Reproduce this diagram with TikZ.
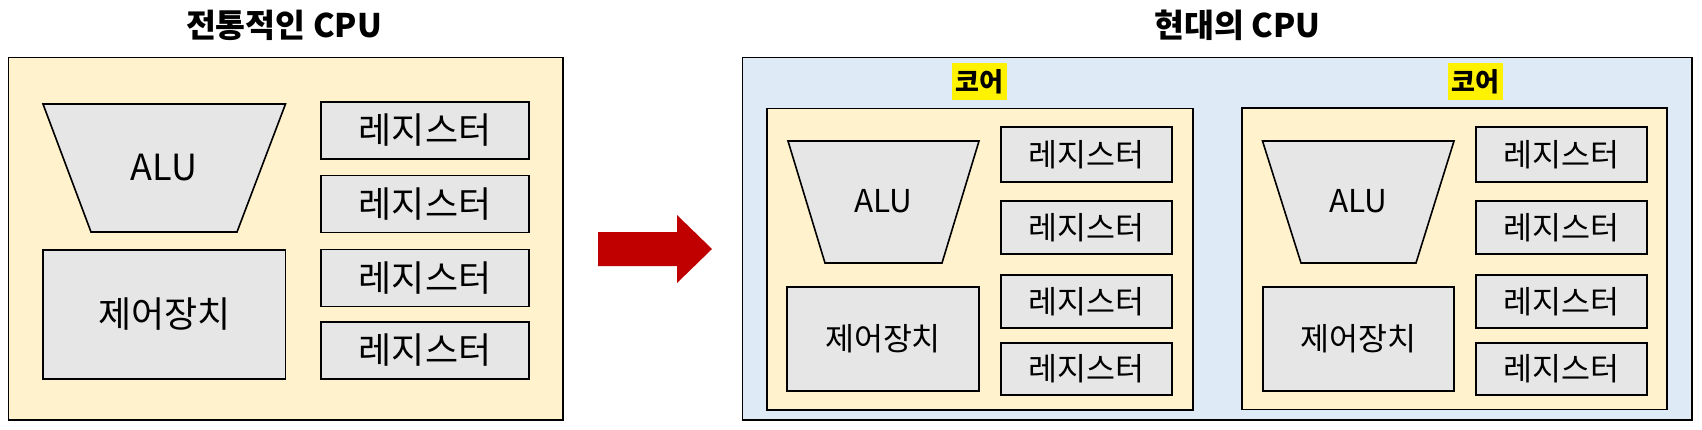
\documentclass[tikz,border=0pt]{standalone}
\usepackage{fontspec}
\setmainfont{Noto Sans CJK KR}
\definecolor{cream}{HTML}{FFF2CC}
\definecolor{paleblue}{HTML}{DEEBF7}
\definecolor{boxgray}{HTML}{E6E6E6}
\definecolor{arrowred}{HTML}{C00000}
\tikzset{
  panel/.style={draw=black, line width=1.8pt, inner sep=0pt},
  part/.style={draw=black, line width=1.6pt, fill=boxgray, inner sep=0pt},
  bigtxt/.style={font=\fontsize{36}{36}\selectfont},
  smalltxt/.style={font=\fontsize{31.5}{31.5}\selectfont},
  title/.style={font=\fontsize{32.5}{32.5}\selectfont\bfseries},
  corelabel/.style={fill=yellow, inner sep=0pt, minimum width=55pt, minimum height=37pt, font=\fontsize{26}{26}\selectfont\bfseries},
}
\begin{document}
\begin{tikzpicture}[x=1pt,y=-1pt]
\useasboundingbox (0,0) rectangle (1702,429);
% ---------- left: traditional CPU ----------
\node[title] (t1) at (284,25) {전통적인 CPU};
\node[panel, fill=cream, minimum width=554.5pt, minimum height=362.5pt] (cpu1) at (285.75,238.75) {};
\filldraw[part, line join=miter] (43,104) -- (285.5,104) -- (237,232) -- (91,232) -- cycle;
\node[bigtxt] (alu0) at (164,168) {ALU};
\node[part, bigtxt, minimum width=242.5pt, minimum height=129pt] (cu0) at (164.25,314.5) {제어장치};
\foreach \y [count=\i] in {130.5,204,278,350.5}
  \node[part, bigtxt, minimum width=208pt, minimum height=57pt] (r0\i) at (425,\y) {레지스터};
% ---------- arrow ----------
\fill[arrowred] (598,232) -- (677,232) -- (677,215) -- (712,249) -- (677,283) -- (677,266) -- (598,266) -- cycle;
% ---------- right: modern CPU ----------
\node[title] (t2) at (1237.5,25) {현대의 CPU};
\node[panel, fill=paleblue, minimum width=949.5pt, minimum height=362.5pt] (cpu2) at (1217.25,238.75) {};
% core 1
\node[corelabel] (l1) at (979.5,81.5) {코어};
\node[panel, fill=cream, minimum width=426pt, minimum height=301.5pt] (core1) at (980,259.25) {};
\filldraw[part, line join=miter] (788,141) -- (979,141) -- (942,263) -- (825,263) -- cycle;
\node[smalltxt] (alu1) at (883.5,201) {ALU};
\node[part, smalltxt, minimum width=192pt, minimum height=104pt] (cu1) at (883,339) {제어장치};
\foreach \y/\h [count=\i] in {154.5/55,227.5/53,301.5/53,369/52}
  \node[part, smalltxt, minimum width=171pt, minimum height=\h pt] (ra\i) at (1086.5,\y) {레지스터};
% core 2
\node[corelabel] (l2) at (1475,81.5) {코어};
\node[panel, fill=cream, minimum width=425pt, minimum height=301.5pt] (core2) at (1454.5,258.75) {};
\filldraw[part, line join=miter] (1262.5,141) -- (1454,141) -- (1416,263) -- (1301,263) -- cycle;
\node[smalltxt] (alu2) at (1358.5,201) {ALU};
\node[part, smalltxt, minimum width=191pt, minimum height=104pt] (cu2) at (1358.5,339) {제어장치};
\foreach \y/\h [count=\i] in {154.5/55,227.5/53,301.5/53,369/52}
  \node[part, smalltxt, minimum width=171pt, minimum height=\h pt] (rb\i) at (1561.5,\y) {레지스터};
\end{tikzpicture}
\end{document}
